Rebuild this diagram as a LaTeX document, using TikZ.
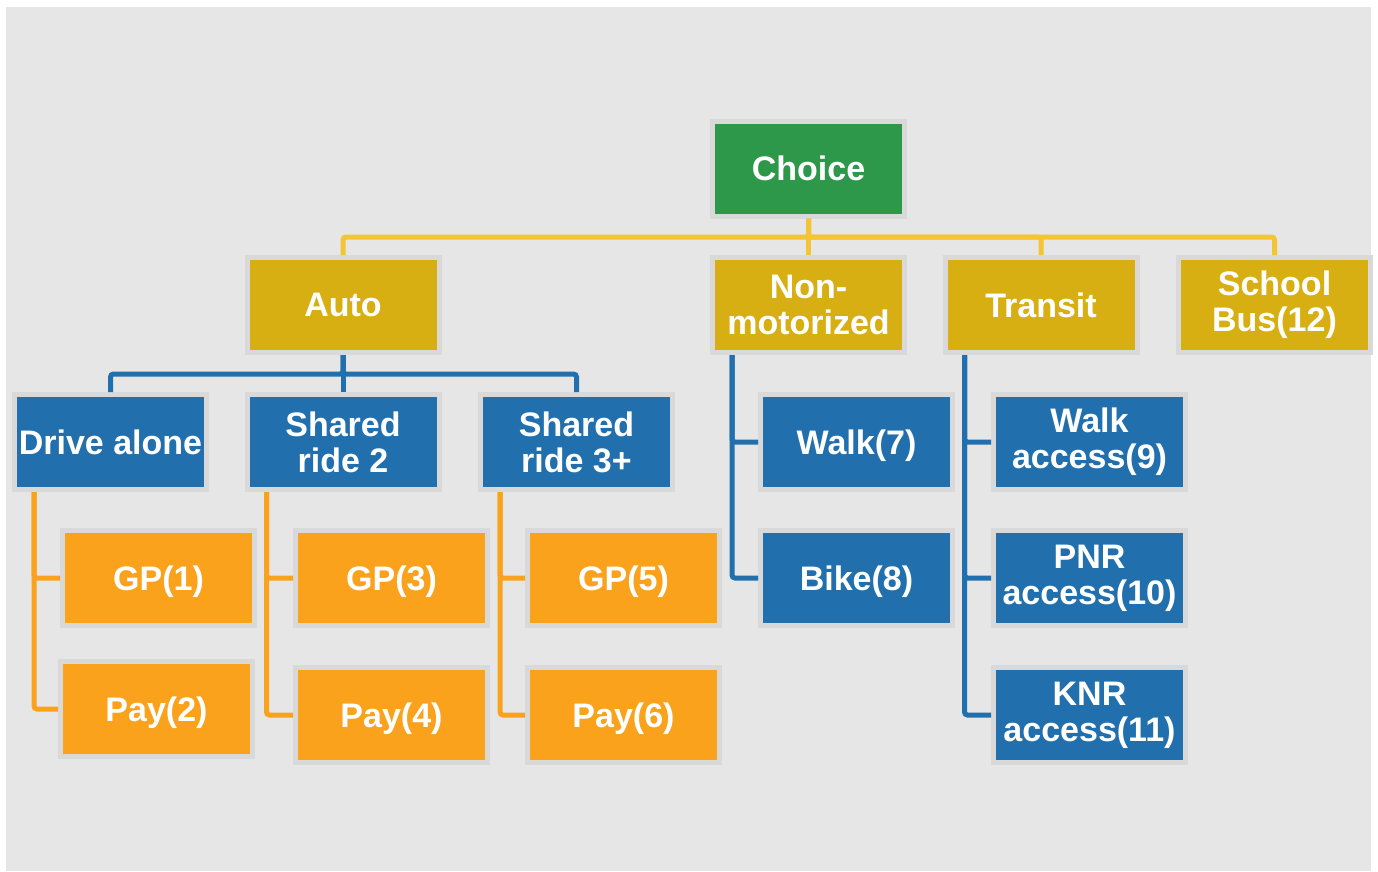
\documentclass[tikz,border=0pt]{standalone}
\usepackage{fontspec}
\setmainfont{Liberation Sans}
\usetikzlibrary{positioning}

\definecolor{bgGray}{HTML}{E6E6E6}
\definecolor{rimGray}{HTML}{D9D9D9}
\definecolor{choiceGreen}{HTML}{2E984A}
\definecolor{modeGold}{HTML}{D8AF13}
\definecolor{subBlue}{HTML}{2170AD}
\definecolor{leafOrange}{HTML}{FAA21C}
\definecolor{busYellow}{HTML}{F3C534}

\begin{document}
\begin{tikzpicture}[x=1pt, y=-1pt,
  box/.style={draw=rimGray, line width=5pt, rectangle, minimum width=192pt,
    minimum height=95pt, inner sep=0pt, align=center, text=white,
    font=\fontsize{34}{36}\selectfont\bfseries},
  oneline/.style={text height=24.5pt, text depth=0pt},
  choicebox/.style={box, fill=choiceGreen},
  modebox/.style={box, fill=modeGold},
  subbox/.style={box, fill=subBlue},
  leafbox/.style={box, oneline, fill=leafOrange},
  link/.style={line width=5pt, rounded corners=3pt},
  ylink/.style={link, draw=busYellow},
  blink/.style={link, draw=subBlue},
  olink/.style={link, draw=leafOrange}]

  \useasboundingbox (0,0) rectangle (1378,871);
  \fill [bgGray] (6,7) rectangle (1371,871);

  \node [choicebox] (choice) at (808.5,168.5) {Choice};

  \node [modebox] (auto)    at (343,305)    {Auto};
  \node [modebox] (nonmot)  at (808.5,305)  {Non-\\motorized};
  \node [modebox] (transit) at (1041,305)   {Transit};
  \node [modebox] (school)  at (1274.5,305) {School\\Bus(12)};

  \node [subbox] (drive) at (110.5,442) {Drive alone};
  \node [subbox] (sr2)   at (343,442)   {Shared\\ride 2};
  \node [subbox] (sr3)   at (576.5,442) {Shared\\ride 3+};

  \path (drive) ++(48,136) node [leafbox] (gp1)  {GP(1)};
  \path (drive) ++(46,267) node [leafbox] (pay2) {Pay(2)};
  \path (sr2)   ++(48.5,136) node [leafbox] (gp3)  {GP(3)};
  \path (sr2)   ++(48.5,273) node [leafbox] (pay4) {Pay(4)};
  \path (sr3)   ++(47,136) node [leafbox] (gp5)  {GP(5)};
  \path (sr3)   ++(47,273) node [leafbox] (pay6) {Pay(6)};

  \path (nonmot) ++(48,137) node [subbox, oneline] (walk) {Walk(7)};
  \path (walk)   ++(0,136)  node [subbox, oneline] (bike) {Bike(8)};

  \path (transit) ++(48.5,137) node [subbox] (walkacc) {Walk\\access(9)};
  \path (walkacc) ++(0,136)    node [subbox] (pnr)     {PNR\\access(10)};
  \path (pnr)     ++(0,137)    node [subbox] (knr)     {KNR\\access(11)};

  % top level bus
  \coordinate (ybus) at (0,237);
  \draw [ylink] (choice.south) |- (ybus -| auto)    -- (auto.north);
  \draw [ylink] (choice.south) -- (nonmot.north);
  \draw [ylink] (choice.south) |- (ybus -| transit) -- (transit.north);
  \draw [ylink] (choice.south) |- (ybus -| school)  -- (school.north);

  % auto bus
  \coordinate (abus) at (0,374);
  \draw [blink] (auto.south) |- (abus -| drive) -- (drive.north);
  \draw [blink] (auto.south) -- (sr2.north);
  \draw [blink] (auto.south) |- (abus -| sr3) -- (sr3.north);

  % side spines
  \draw [olink] ([xshift=22pt]drive.south west) |- (gp1.west);
  \draw [olink] ([xshift=22pt]drive.south west) |- (pay2.west);
  \draw [olink] ([xshift=22pt]sr2.south west) |- (gp3.west);
  \draw [olink] ([xshift=22pt]sr2.south west) |- (pay4.west);
  \draw [olink] ([xshift=22pt]sr3.south west) |- (gp5.west);
  \draw [olink] ([xshift=22pt]sr3.south west) |- (pay6.west);

  \draw [blink] ([xshift=22pt]nonmot.south west) |- (walk.west);
  \draw [blink] ([xshift=22pt]nonmot.south west) |- (bike.west);

  \draw [blink] ([xshift=22pt]transit.south west) |- (walkacc.west);
  \draw [blink] ([xshift=22pt]transit.south west) |- (pnr.west);
  \draw [blink] ([xshift=22pt]transit.south west) |- (knr.west);
\end{tikzpicture}
\end{document}
